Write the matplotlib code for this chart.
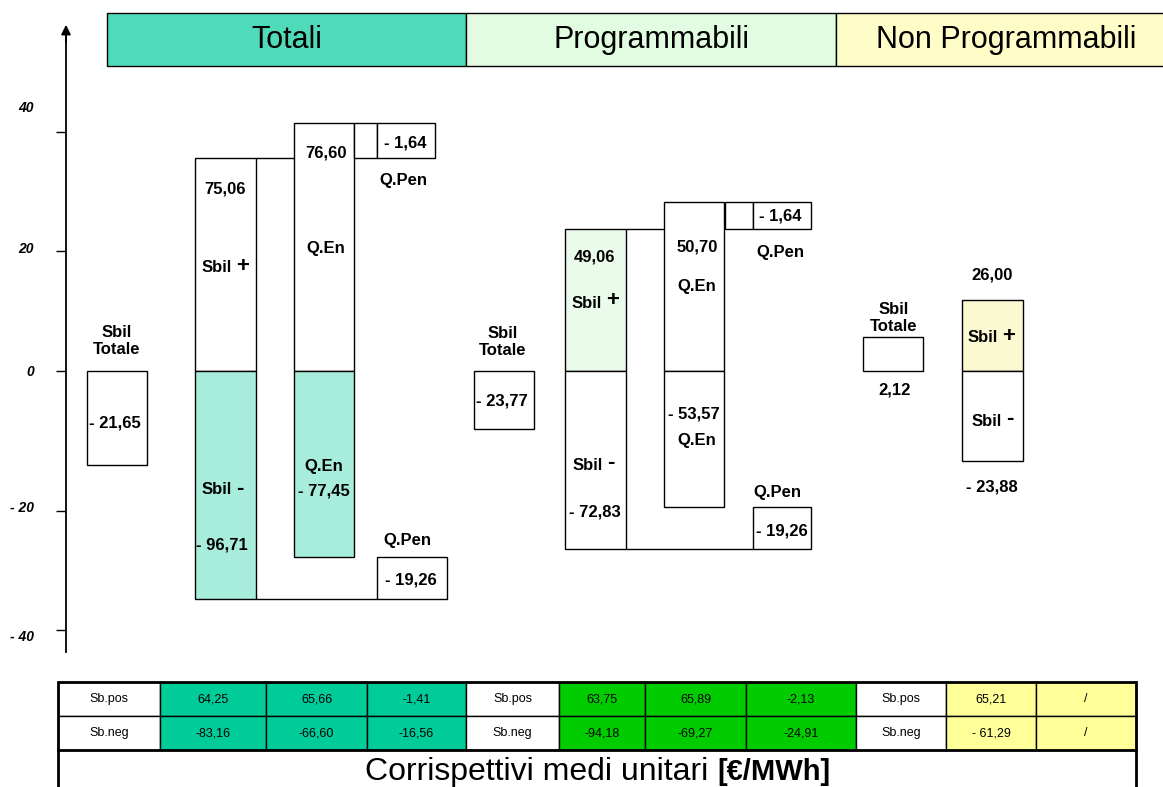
import numpy as np
import matplotlib
matplotlib.use("Agg")
import matplotlib.pyplot as plt
from matplotlib.patches import Rectangle
from matplotlib.transforms import ScaledTranslation

plt.rcParams['font.family'] = ['Liberation Sans', 'DejaVu Sans']

# ---------------------------------------------------------------
# Data
# ---------------------------------------------------------------
groups = ["Totali", "Programmabili", "Non Programmabili"]

# schematic box extents as drawn against the y axis
sbil_tot_drawn = [-13.4, -8.3, 5.7]
sbil_pos_drawn = [35.6, 23.8, 11.9]
sbil_neg_drawn = [-34.8, -26.4, -12.9]
qen_pos_drawn = [41.5, 28.3]
qen_neg_drawn = [-27.7, -19.4]

# printed values
sbil_tot_vals = ["- 21,65", "- 23,77", "2,12"]
sbil_pos_vals = ["75,06", "49,06", "26,00"]
sbil_neg_vals = ["- 96,71", "- 72,83", "- 23,88"]
qen_pos_vals = ["76,60", "50,70"]
qen_neg_vals = ["- 77,45", "- 53,57"]
qpen_pos_vals = ["- 1,64", "- 1,64"]
qpen_neg_vals = ["- 19,26", "- 19,26"]

yticks = [40, 20, 0, -20, -40]
ytick_labels = ["40", "20", "0", "- 20", "- 40"]

# table of unit prices
row_names = ["Sb.pos", "Sb.neg"]
tab_tot = [["64,25", "65,66", "-1,41"], ["-83,16", "-66,60", "-16,56"]]
tab_prog = [["63,75", "65,89", "-2,13"], ["-94,18", "-69,27", "-24,91"]]
tab_nonprog = [["65,21", "/"], ["- 61,29", "/"]]

# ---------------------------------------------------------------
# Styles / layout
# ---------------------------------------------------------------
W, H = 1163, 787
header_cols = ["#4FDBB9", "#E1FCE1", "#FEFDC8"]
header_x = [107, 466, 836, 1176]
teal_light = "#A8EDDC"
green_light = "#EBFBEB"
yellow_light = "#FBF9D2"
tab_cols = ["#00CC99", "#00CC00", "#FFFF99"]

tot_box_x = [87, 474, 863]
sbil_x = [195, 565, 962]
qen_x = [294, 664]
gap_x = [354, 725]
qpen_x = [377, 753]
qpen_top_w = [58, 58]
qpen_bot_w = [70, 58]
col_w = 61

sbil_pos_fill = ["white", green_light, yellow_light]
sbil_neg_fill = [teal_light, "white", "white"]
qen_neg_fill = [teal_light, "white"]

# the original axis is not evenly spaced below zero
scale_v = [-200, -40, -20, 0, 40, 200]
scale_p = [-259 - 160 * 5.95, -259, -140, 0, 239, 239 + 160 * 5.975]


def fwd(v):
    return np.interp(v, scale_v, scale_p)


def inv(p):
    return np.interp(p, scale_p, scale_v)


fig = plt.figure(figsize=(W / 100, H / 100), dpi=100)
ax = fig.add_axes([0, 0, 1, 1])
ax.set_yscale('function', functions=(fwd, inv))
ax.set_xlim(0, W)
ax.set_ylim(inv(371 - H), inv(371))

# y axis with arrow
for s in ["top", "right", "bottom"]:
    ax.spines[s].set_visible(False)
ax.spines["left"].set_position(("data", 66))
ax.spines["left"].set_bounds(inv(371 - 652), inv(371 - 30))
ax.spines["left"].set_linewidth(1.3)
ax.xaxis.set_visible(False)
ax.set_yticks(yticks, ytick_labels)
ax.tick_params(axis="y", direction="out", length=7.2, width=1, pad=16,
               labelsize=10)
label_shift = [18, 3, 0, 3, -4]
for lbl, dy in zip(ax.get_yticklabels(), label_shift):
    lbl.set_fontweight("bold")
    lbl.set_fontstyle("italic")
    lbl.set_transform(lbl.get_transform() + ScaledTranslation(0, dy / 72, fig.dpi_scale_trans))
ax.annotate("", xy=(66, inv(371 - 22)), xytext=(66, inv(371 - 45)),
            arrowprops=dict(arrowstyle="-|>", color="black", lw=1.3, mutation_scale=14))

# boxes
ec = dict(edgecolor="black", linewidth=1.0)
ax.bar(tot_box_x, sbil_tot_drawn, width=60, align="edge", color="white", **ec)
ax.bar(sbil_x, sbil_pos_drawn, width=col_w, align="edge", color=sbil_pos_fill, **ec)
ax.bar(sbil_x, sbil_neg_drawn, width=col_w, align="edge", color=sbil_neg_fill, **ec)
ax.bar(qen_x, qen_pos_drawn, width=60, align="edge", color="white", **ec)
ax.bar(qen_x, qen_neg_drawn, width=60, align="edge", color=qen_neg_fill, **ec)

pen_top = np.array(qen_pos_drawn)
pen_low = np.array(sbil_pos_drawn[:2])
ax.bar(gap_x, pen_top - pen_low, bottom=pen_low, width=np.subtract(qpen_x, gap_x),
       align="edge", color="white", **ec)
ax.bar(qpen_x, pen_top - pen_low, bottom=pen_low, width=qpen_top_w,
       align="edge", color="white", **ec)
neg_top = np.array(qen_neg_drawn)
neg_low = np.array(sbil_neg_drawn[:2])
ax.bar(qpen_x, neg_top - neg_low, bottom=neg_low, width=qpen_bot_w,
       align="edge", color="white", **ec)

# connectors
for i in range(2):
    ax.hlines(sbil_pos_drawn[i], sbil_x[i] + col_w, qen_x[i], color="black", lw=1.0)
    ax.hlines(sbil_neg_drawn[i], sbil_x[i] + col_w, qpen_x[i], color="black", lw=1.0)

# ---------------------------------------------------------------
# Overlay in pixel coordinates: header, labels, table
# ---------------------------------------------------------------
lay = fig.add_axes([0, 0, 1, 1])
lay.set_xlim(0, W)
lay.set_ylim(H, 0)
lay.axis("off")

for i, g in enumerate(groups):
    lay.add_patch(Rectangle((header_x[i], 13), header_x[i + 1] - header_x[i], 53,
                            facecolor=header_cols[i], edgecolor="black", lw=1.0))
    lay.text((header_x[i] + header_x[i + 1]) / 2, 40, g, fontsize=22,
             ha="center", va="center")


def lab(x, y, s, size=12):
    lay.text(x, y, s, fontsize=size, fontweight="bold", ha="center", va="center")


def sbil_sign(x_right, y, sign):
    lay.text(x_right, y, "Sbil", fontsize=12, fontweight="bold", ha="right", va="center")
    lay.text(x_right + 4, y - 2, sign, fontsize=16, fontweight="bold", ha="left", va="center")


# Totali
lab(117, 341, "Sbil\nTotale")
lab(115, 423, sbil_tot_vals[0])
lab(225, 189, sbil_pos_vals[0])
sbil_sign(232, 268, "+")
sbil_sign(232, 490, "-")
lab(222, 545, sbil_neg_vals[0])
lab(326, 153, qen_pos_vals[0])
lab(326, 249, "Q.En")
lab(324, 466, "Q.En")
lab(324, 491, qen_neg_vals[0])
lab(405, 143, qpen_pos_vals[0])
lab(403, 181, "Q.Pen")
lab(407, 540, "Q.Pen")
lab(411, 580, qpen_neg_vals[0])

# Programmabili
lab(503, 342, "Sbil\nTotale")
lab(502, 401, sbil_tot_vals[1])
lab(595, 257, sbil_pos_vals[1])
sbil_sign(602, 303, "+")
sbil_sign(603, 465, "-")
lab(595, 512, sbil_neg_vals[1])
lab(697, 247, qen_pos_vals[1])
lab(697, 287, "Q.En")
lab(694, 414, qen_neg_vals[1])
lab(697, 440, "Q.En")
lab(780, 216, qpen_pos_vals[1])
lab(780, 252, "Q.Pen")
lab(777, 492, "Q.Pen")
lab(782, 531, qpen_neg_vals[1])

# Non Programmabili
lab(894, 318, "Sbil\nTotale")
lab(895, 390, sbil_tot_vals[2])
lab(992, 275, sbil_pos_vals[2])
sbil_sign(998, 338, "+")
sbil_sign(1002, 421, "-")
lab(992, 487, sbil_neg_vals[2])

# table
col_edges = [58, 160, 266, 367, 466, 559, 645, 746, 856, 946, 1036, 1136]
row_edges = [682, 716, 750]
cells = []
for r in range(2):
    row = [(row_names[r], "white")]
    row += [(v, tab_cols[0]) for v in tab_tot[r]]
    row += [(row_names[r], "white")]
    row += [(v, tab_cols[1]) for v in tab_prog[r]]
    row += [(row_names[r], "white")]
    row += [(v, tab_cols[2]) for v in tab_nonprog[r]]
    cells.append(row)

for r, row in enumerate(cells):
    y0, y1 = row_edges[r], row_edges[r + 1]
    for c, (txt, col) in enumerate(row):
        x0, x1 = col_edges[c], col_edges[c + 1]
        lay.add_patch(Rectangle((x0, y0), x1 - x0, y1 - y0, facecolor=col,
                                edgecolor="black", lw=1.0))
        lay.text((x0 + x1) / 2, (y0 + y1) / 2, txt, fontsize=9, ha="center", va="center")

lay.add_patch(Rectangle((col_edges[0], row_edges[0]), col_edges[-1] - col_edges[0],
                        row_edges[-1] - row_edges[0], fill=False, edgecolor="black", lw=2.0))
lay.plot([col_edges[0], col_edges[0]], [row_edges[-1], H], color="black", lw=2.0)
lay.plot([col_edges[-1], col_edges[-1]], [row_edges[-1], H], color="black", lw=2.0)

lay.text(708, 772, "Corrispettivi medi unitari", fontsize=23, ha="right", va="center")
lay.text(717, 772, "[€/MWh]", fontsize=21, fontweight="bold", ha="left", va="center")

fig.savefig("out.png", dpi=100)
